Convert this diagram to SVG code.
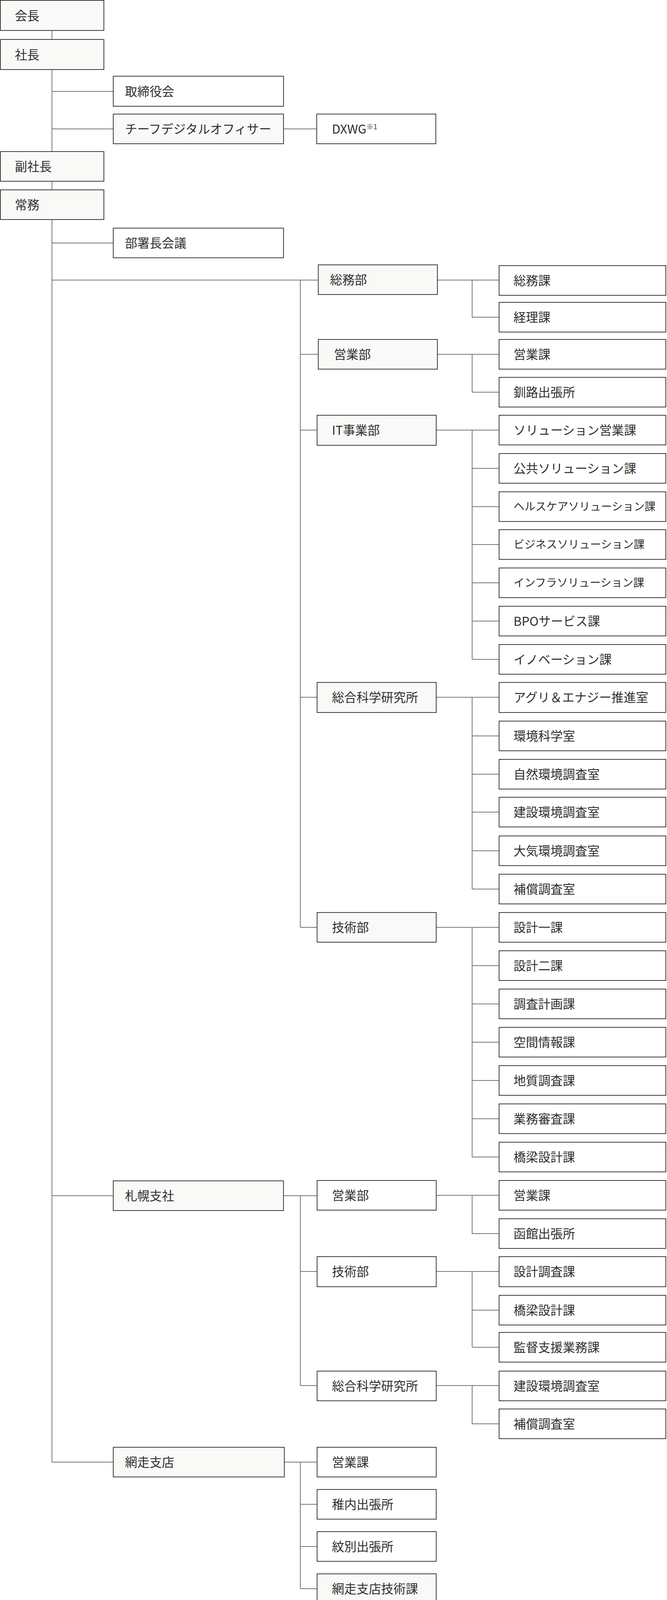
<svg xmlns="http://www.w3.org/2000/svg" width="1708" height="4107" viewBox="0 0 1708 4107">
<style>
.b{fill:#ffffff;stroke:#3c3c3c;stroke-width:2}
.f{fill:#f9f9f7;stroke:#3c3c3c;stroke-width:2}
.t{font-family:'Noto Sans CJK JP','Noto Sans',sans-serif;font-size:31.5px;fill:#2e2e2e}
.s{font-size:28px}
.c{fill:none;stroke:#777777;stroke-width:2}
</style>
<rect width="1708" height="4107" fill="#ffffff"/>
<g id="connectors">
<path class="c" d="M133 79V3744
M133 234H289 M133 330H289 M727 330H810 M133 622H289
M133 717H814 M769 717V2374 M769 907H814 M769 1101H811 M769 1785H811 M769 2374H811
M1121 717H1277 M1209 717V812H1277
M1121 907H1277 M1209 907V1004H1277
M1117 1101H1277 M1209 1101V1688 M1209 1199H1277 M1209 1297H1277 M1209 1394H1277 M1209 1492H1277 M1209 1590H1277 M1209 1688H1277
M1117 1785H1277 M1209 1785V2276 M1209 1884H1277 M1209 1982H1277 M1209 2079H1277 M1209 2178H1277 M1209 2276H1277
M1117 2374H1277 M1209 2374V2962 M1209 2472H1277 M1209 2570H1277 M1209 2668H1277 M1209 2766H1277 M1209 2864H1277 M1209 2962H1277
M133 3061H289 M727 3061H811 M769 3061V3547 M769 3255H811 M769 3547H811
M1117 3060H1277 M1209 3060V3158H1277
M1117 3255H1277 M1209 3255V3449 M1209 3354H1277 M1209 3449H1277
M1117 3547H1277 M1209 3547V3645H1277
M133 3743H289 M727 3743H811 M769 3743V4067 M769 3851H811 M769 3959H811 M769 4067H811"/>
</g>
<g id="n-kaicho"><rect class="f" x="1" y="1" width="265" height="77"/><text class="t" x="38" y="52">会長</text></g>
<g id="n-shacho"><rect class="f" x="1" y="101" width="265" height="77"/><text class="t" x="38" y="152">社長</text></g>
<g id="n-torishimariyakukai"><rect class="b" x="290" y="195" width="436" height="77"/><text class="t" x="320" y="246">取締役会</text></g>
<g id="n-cdo"><rect class="f" x="290" y="292" width="436" height="76"/><text class="t" x="320" y="342">チーフデジタルオフィサー</text></g>
<g id="n-dxwg"><rect class="b" x="811" y="292" width="305" height="76"/><text class="t" x="850" y="342">DXWG<tspan font-size="18" dy="-11">※1</tspan></text></g>
<g id="n-fukushacho"><rect class="f" x="1" y="388" width="265" height="76"/><text class="t" x="38" y="438">副社長</text></g>
<g id="n-jomu"><rect class="f" x="1" y="486" width="265" height="76"/><text class="t" x="38" y="536">常務</text></g>
<g id="n-bushocho"><rect class="b" x="290" y="584" width="436" height="76"/><text class="t" x="320" y="634">部署長会議</text></g>

<g id="n-somubu"><rect class="f" x="815" y="678" width="305" height="76"/><text class="t" x="845" y="728">総務部</text></g>
<g id="n-eigyobu"><rect class="f" x="815" y="869" width="305" height="76"/><text class="t" x="855" y="919">営業部</text></g>
<g id="n-itbu"><rect class="f" x="812" y="1063" width="305" height="77"/><text class="t" x="850" y="1113">IT事業部</text></g>
<g id="n-sogokagaku"><rect class="f" x="812" y="1747" width="305" height="77"/><text class="t" x="850" y="1797">総合科学研究所</text></g>
<g id="n-gijutsubu"><rect class="f" x="812" y="2336" width="305" height="76"/><text class="t" x="850" y="2386">技術部</text></g>

<g id="n-somuka"><rect class="b" x="1278" y="680" width="427" height="76"/><text class="t" x="1315" y="730">総務課</text></g>
<g id="n-keirika"><rect class="b" x="1278" y="774" width="427" height="76"/><text class="t" x="1315" y="824">経理課</text></g>
<g id="n-eigyoka"><rect class="b" x="1278" y="869" width="427" height="76"/><text class="t" x="1315" y="919">営業課</text></g>
<g id="n-kushiro"><rect class="b" x="1278" y="966" width="427" height="76"/><text class="t" x="1315" y="1016">釧路出張所</text></g>
<g id="n-solution-eigyo"><rect class="b" x="1278" y="1063" width="427" height="76"/><text class="t" x="1315" y="1113">ソリューション営業課</text></g>
<g id="n-kokyo"><rect class="b" x="1278" y="1161" width="427" height="76"/><text class="t" x="1315" y="1211">公共ソリューション課</text></g>
<g id="n-healthcare"><rect class="b" x="1278" y="1259" width="427" height="76"/><text class="t s" x="1315" y="1307">ヘルスケアソリューション課</text></g>
<g id="n-business"><rect class="b" x="1278" y="1356" width="427" height="76"/><text class="t s" x="1315" y="1404">ビジネスソリューション課</text></g>
<g id="n-infra"><rect class="b" x="1278" y="1454" width="427" height="76"/><text class="t s" x="1315" y="1502">インフラソリューション課</text></g>
<g id="n-bpo"><rect class="b" x="1278" y="1552" width="427" height="76"/><text class="t" x="1315" y="1602">BPOサービス課</text></g>
<g id="n-innovation"><rect class="b" x="1278" y="1650" width="427" height="76"/><text class="t" x="1315" y="1700">イノベーション課</text></g>
<g id="n-agri"><rect class="b" x="1278" y="1747" width="427" height="77"/><text class="t" x="1315" y="1797">アグリ＆エナジー推進室</text></g>
<g id="n-kankyokagaku"><rect class="b" x="1278" y="1846" width="427" height="76"/><text class="t" x="1315" y="1896">環境科学室</text></g>
<g id="n-shizen"><rect class="b" x="1278" y="1944" width="427" height="76"/><text class="t" x="1315" y="1994">自然環境調査室</text></g>
<g id="n-kensetsu"><rect class="b" x="1278" y="2041" width="427" height="76"/><text class="t" x="1315" y="2091">建設環境調査室</text></g>
<g id="n-taiki"><rect class="b" x="1278" y="2140" width="427" height="76"/><text class="t" x="1315" y="2190">大気環境調査室</text></g>
<g id="n-hosho"><rect class="b" x="1278" y="2238" width="427" height="76"/><text class="t" x="1315" y="2288">補償調査室</text></g>
<g id="n-sekkei1"><rect class="b" x="1278" y="2336" width="427" height="76"/><text class="t" x="1315" y="2386">設計一課</text></g>
<g id="n-sekkei2"><rect class="b" x="1278" y="2434" width="427" height="76"/><text class="t" x="1315" y="2484">設計二課</text></g>
<g id="n-chosakeikaku"><rect class="b" x="1278" y="2532" width="427" height="76"/><text class="t" x="1315" y="2582">調査計画課</text></g>
<g id="n-kukan"><rect class="b" x="1278" y="2630" width="427" height="76"/><text class="t" x="1315" y="2680">空間情報課</text></g>
<g id="n-chishitsu"><rect class="b" x="1278" y="2728" width="427" height="76"/><text class="t" x="1315" y="2778">地質調査課</text></g>
<g id="n-gyomushinsa"><rect class="b" x="1278" y="2826" width="427" height="76"/><text class="t" x="1315" y="2876">業務審査課</text></g>
<g id="n-kyoryo"><rect class="b" x="1278" y="2924" width="427" height="76"/><text class="t" x="1315" y="2974">橋梁設計課</text></g>

<g id="n-sapporo"><rect class="f" x="290" y="3023" width="436" height="76"/><text class="t" x="320" y="3073">札幌支社</text></g>
<g id="n-sp-eigyobu"><rect class="b" x="812" y="3022" width="305" height="76"/><text class="t" x="850" y="3072">営業部</text></g>
<g id="n-sp-gijutsubu"><rect class="b" x="812" y="3217" width="305" height="77"/><text class="t" x="850" y="3267">技術部</text></g>
<g id="n-sp-sogokagaku"><rect class="b" x="812" y="3510" width="305" height="76"/><text class="t" x="850" y="3560">総合科学研究所</text></g>
<g id="n-sp-eigyoka"><rect class="b" x="1278" y="3022" width="427" height="76"/><text class="t" x="1315" y="3072">営業課</text></g>
<g id="n-sp-hakodate"><rect class="b" x="1278" y="3120" width="427" height="76"/><text class="t" x="1315" y="3170">函館出張所</text></g>
<g id="n-sp-sekkeichosa"><rect class="b" x="1278" y="3217" width="427" height="77"/><text class="t" x="1315" y="3267">設計調査課</text></g>
<g id="n-sp-kyoryo"><rect class="b" x="1278" y="3316" width="427" height="76"/><text class="t" x="1315" y="3366">橋梁設計課</text></g>
<g id="n-sp-kantoku"><rect class="b" x="1278" y="3411" width="427" height="76"/><text class="t" x="1315" y="3461">監督支援業務課</text></g>
<g id="n-sp-kensetsu"><rect class="b" x="1278" y="3510" width="427" height="76"/><text class="t" x="1315" y="3560">建設環境調査室</text></g>
<g id="n-sp-hosho"><rect class="b" x="1278" y="3607" width="427" height="76"/><text class="t" x="1315" y="3657">補償調査室</text></g>

<g id="n-abashiri"><rect class="f" x="290" y="3705" width="438" height="76"/><text class="t" x="320" y="3755">網走支店</text></g>
<g id="n-ab-eigyoka"><rect class="b" x="812" y="3705" width="305" height="76"/><text class="t" x="850" y="3755">営業課</text></g>
<g id="n-ab-wakkanai"><rect class="b" x="812" y="3813" width="305" height="76"/><text class="t" x="850" y="3863">稚内出張所</text></g>
<g id="n-ab-mombetsu"><rect class="b" x="812" y="3921" width="305" height="76"/><text class="t" x="850" y="3971">紋別出張所</text></g>
<g id="n-ab-gijutsuka"><rect class="f" x="812" y="4029" width="305" height="76"/><text class="t" x="850" y="4079">網走支店技術課</text></g>
</svg>
